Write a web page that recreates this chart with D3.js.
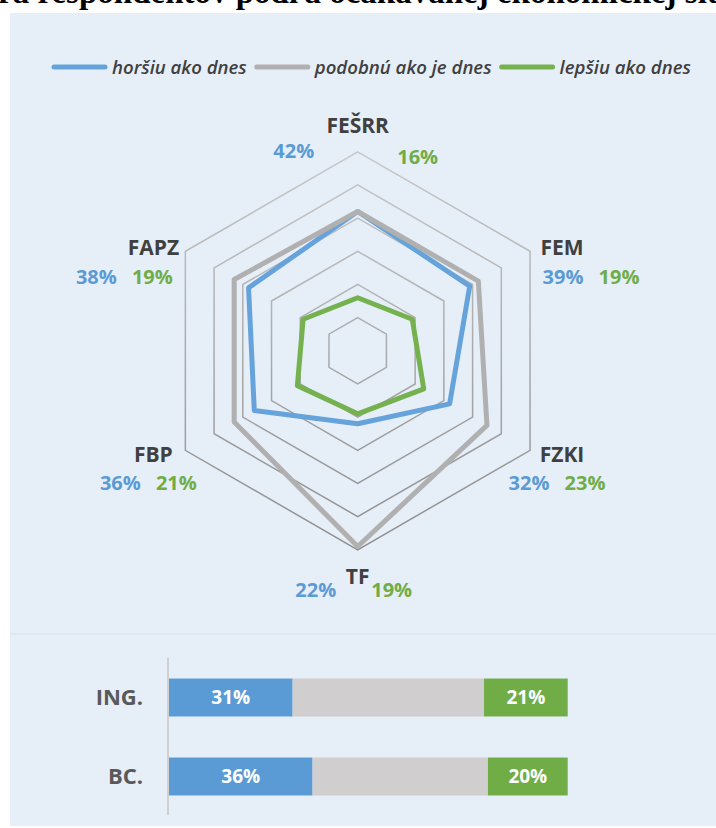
<!DOCTYPE html>
<html lang="sk">
<head>
<meta charset="utf-8">
<title>Očakávaná ekonomická situácia</title>
<script src="https://d3js.org/d3.v7.min.js"></script>
<style>
body { margin: 0; background: #fff; }
svg { display: block; }
text { font-family: "Open Sans", sans-serif; }
</style>
</head>
<body>
<script>

// data
var faculties = ["FEŠRR", "FEM", "FZKI", "TF", "FBP", "FAPZ"];
var horsiu  = [42, 39, 32, 22, 36, 38];
var podobnu = [42, 42, 45, 59, 43, 43];
var lepsiu  = [16, 19, 23, 19, 21, 19];

var degrees    = ["ING.", "BC."];
var barHorsiu  = [31, 36];
var barPodobnu = [48, 44];
var barLepsiu  = [21, 20];

var seriesNames = ["horšiu ako dnes", "podobnú ako je dnes", "lepšiu ako dnes"];
var gridTicks = [10, 20, 30, 40, 50, 60];

var titleText = "Štruktúra respondentov podľa očakávanej ekonomickej situácie";

// colours
var lineColors = ["#65a3da", "#b0b0b0", "#75b24f"];
var barColors  = ["#5b9bd5", "#d0cece", "#70ad47"];
var textBlue = "#5b9bd5", textGreen = "#70ad47";

var W = 716, H = 828;

var svg = d3.select("body").append("svg")
    .attr("width", W)
    .attr("height", H);

// title, mostly cut off at the top (as in the source)
var titleFont = function(sel) {
  return sel.style("font-family", "'Liberation Serif', serif")
    .style("font-weight", "bold")
    .style("font-size", "33px");
};
var title = svg.append("text")
    .attr("y", 3)
    .attr("fill", "#000")
    .call(titleFont)
    .text(titleText);
var probe = svg.append("text").call(titleFont).text("Štruktú");
title.attr("x", -probe.node().getComputedTextLength() - 2);
probe.remove();

// panel
svg.append("rect")
    .attr("x", 10).attr("y", 13)
    .attr("width", W - 10).attr("height", H - 15)
    .attr("fill", "#e6eef8");

svg.append("line")
    .attr("x1", 10).attr("x2", W)
    .attr("y1", 634).attr("y2", 634)
    .attr("stroke", "#dde8f5")
    .attr("stroke-width", 2);

// legend
var legend = svg.append("g").attr("transform", "translate(52,67)");
var lx = 0;
seriesNames.forEach(function(name, i) {
  legend.append("line")
      .attr("x1", lx + 2).attr("x2", lx + 53)
      .attr("y1", 0).attr("y2", 0)
      .attr("stroke", lineColors[i])
      .attr("stroke-width", 5)
      .attr("stroke-linecap", "round");
  var t = legend.append("text")
      .attr("x", lx + 60)
      .attr("dy", "0.35em")
      .style("font-style", "italic")
      .style("font-weight", 600)
      .style("font-size", "18.6px")
      .attr("fill", "#404040")
      .text(name);
  lx += 60 + t.node().getComputedTextLength() + 8;
});

// radar
var cx = 357.7, cy = 350.8, R = 199;
var r = d3.scaleLinear().domain([0, 60]).range([0, R]);
var angle = function(i) { return i * 2 * Math.PI / faculties.length; };

var grad = svg.append("defs").append("linearGradient")
    .attr("id", "gridGrad")
    .attr("gradientUnits", "userSpaceOnUse")
    .attr("x1", 0).attr("x2", 0)
    .attr("y1", -R).attr("y2", R);
grad.append("stop").attr("offset", "0%").attr("stop-color", "#c8c8c8");
grad.append("stop").attr("offset", "100%").attr("stop-color", "#8e8e8e");

var radar = svg.append("g").attr("transform", "translate(" + cx + "," + cy + ")");

var radial = d3.lineRadial()
    .angle(function(d, i) { return angle(i); })
    .radius(function(d) { return r(d); })
    .curve(d3.curveLinearClosed);

radar.selectAll(".ring")
    .data(gridTicks)
    .enter().append("path")
    .attr("class", "ring")
    .attr("d", function(t) { return radial(faculties.map(function() { return t; })); })
    .attr("fill", "none")
    .attr("stroke", "url(#gridGrad)")
    .attr("stroke-width", 1.5);

radar.selectAll(".series")
    .data([horsiu, podobnu, lepsiu])
    .enter().append("path")
    .attr("class", "series")
    .attr("d", radial)
    .attr("fill", "none")
    .attr("stroke", function(d, i) { return lineColors[i]; })
    .attr("stroke-width", 5)
    .attr("stroke-linejoin", "round");

// radar labels
faculties.forEach(function(f, i) {
  var a = angle(i), s = Math.sin(a), c = Math.cos(a);
  var vx = r(60) * s, vy = -r(60) * c;
  var lxx, lyy, bx, gx, by, gy;
  if (Math.abs(s) < 0.01) {
    lxx = vx;
    lyy = vy - 26.5 * c;
    if (c > 0) { bx = vx - 64; gx = vx + 60; by = lyy + 25; gy = lyy + 31; }
    else       { bx = vx - 42; gx = vx + 34; by = lyy + 14; gy = lyy + 14; }
  } else {
    lxx = vx + 32 * Math.sign(s);
    lyy = vy - 8 * c;
    // upper side labels have their numbers pushed outwards, lower ones a bit left
    var shift = c > 0 ? 29 * Math.sign(s) : -5;
    bx = lxx - 28 + shift; gx = lxx + 28 + shift; by = lyy + 29; gy = lyy + 29;
  }
  radar.append("text")
      .attr("x", lxx).attr("y", lyy).attr("dy", "0.36em")
      .attr("text-anchor", "middle")
      .style("font-weight", "bold").style("font-size", "21px")
      .attr("fill", "#404040")
      .text(f);
  radar.append("text")
      .attr("x", bx).attr("y", by).attr("dy", "0.36em")
      .attr("text-anchor", "middle")
      .style("font-weight", "bold").style("font-size", "20px")
      .attr("fill", textBlue)
      .text(horsiu[i] + "%");
  radar.append("text")
      .attr("x", gx).attr("y", gy).attr("dy", "0.36em")
      .attr("text-anchor", "middle")
      .style("font-weight", "bold").style("font-size", "20px")
      .attr("fill", textGreen)
      .text(lepsiu[i] + "%");
});

// stacked bars
var x = d3.scaleLinear().domain([0, 100]).range([169, 567.7]);
var y = d3.scaleBand().domain(degrees).range([658, 816])
    .paddingInner(0.52).paddingOuter(0.26);

var rows = degrees.map(function(d, i) {
  return { degree: d, horsiu: barHorsiu[i], podobnu: barPodobnu[i], lepsiu: barLepsiu[i] };
});
var stack = d3.stack().keys(["horsiu", "podobnu", "lepsiu"])(rows);

var layers = svg.selectAll(".layer")
    .data(stack)
    .enter().append("g")
    .attr("class", "layer")
    .attr("fill", function(d, i) { return barColors[i]; });

layers.selectAll("rect")
    .data(function(d) { return d; })
    .enter().append("rect")
    .attr("x", function(d) { return x(d[0]); })
    .attr("y", function(d) { return y(d.data.degree); })
    .attr("width", function(d) { return x(d[1]) - x(d[0]); })
    .attr("height", y.bandwidth());

layers.filter(function(d) { return d.key !== "podobnu"; })
    .selectAll("text")
    .data(function(d) { return d; })
    .enter().append("text")
    .attr("x", function(d) { return (x(d[0]) + x(d[1])) / 2; })
    .attr("y", function(d) { return y(d.data.degree) + y.bandwidth() / 2; })
    .attr("dy", "0.36em")
    .attr("text-anchor", "middle")
    .style("font-weight", "bold").style("font-size", "19px")
    .attr("fill", "#fff")
    .text(function(d) { return (d[1] - d[0]) + "%"; });

var yAxis = d3.axisLeft(y).tickSize(0).tickPadding(25);
var yAxisGroup = svg.append("g")
    .attr("transform", "translate(168,0)")
    .call(yAxis);
yAxisGroup.select(".domain")
    .attr("d", "M0,658V815")
    .attr("stroke", "#d0d0d0")
    .attr("stroke-width", 2);
yAxisGroup.selectAll("text")
    .style("font-family", "'Open Sans', sans-serif")
    .style("font-weight", "bold")
    .style("font-size", "22px")
    .attr("fill", "#595959");

</script>
</body>
</html>
